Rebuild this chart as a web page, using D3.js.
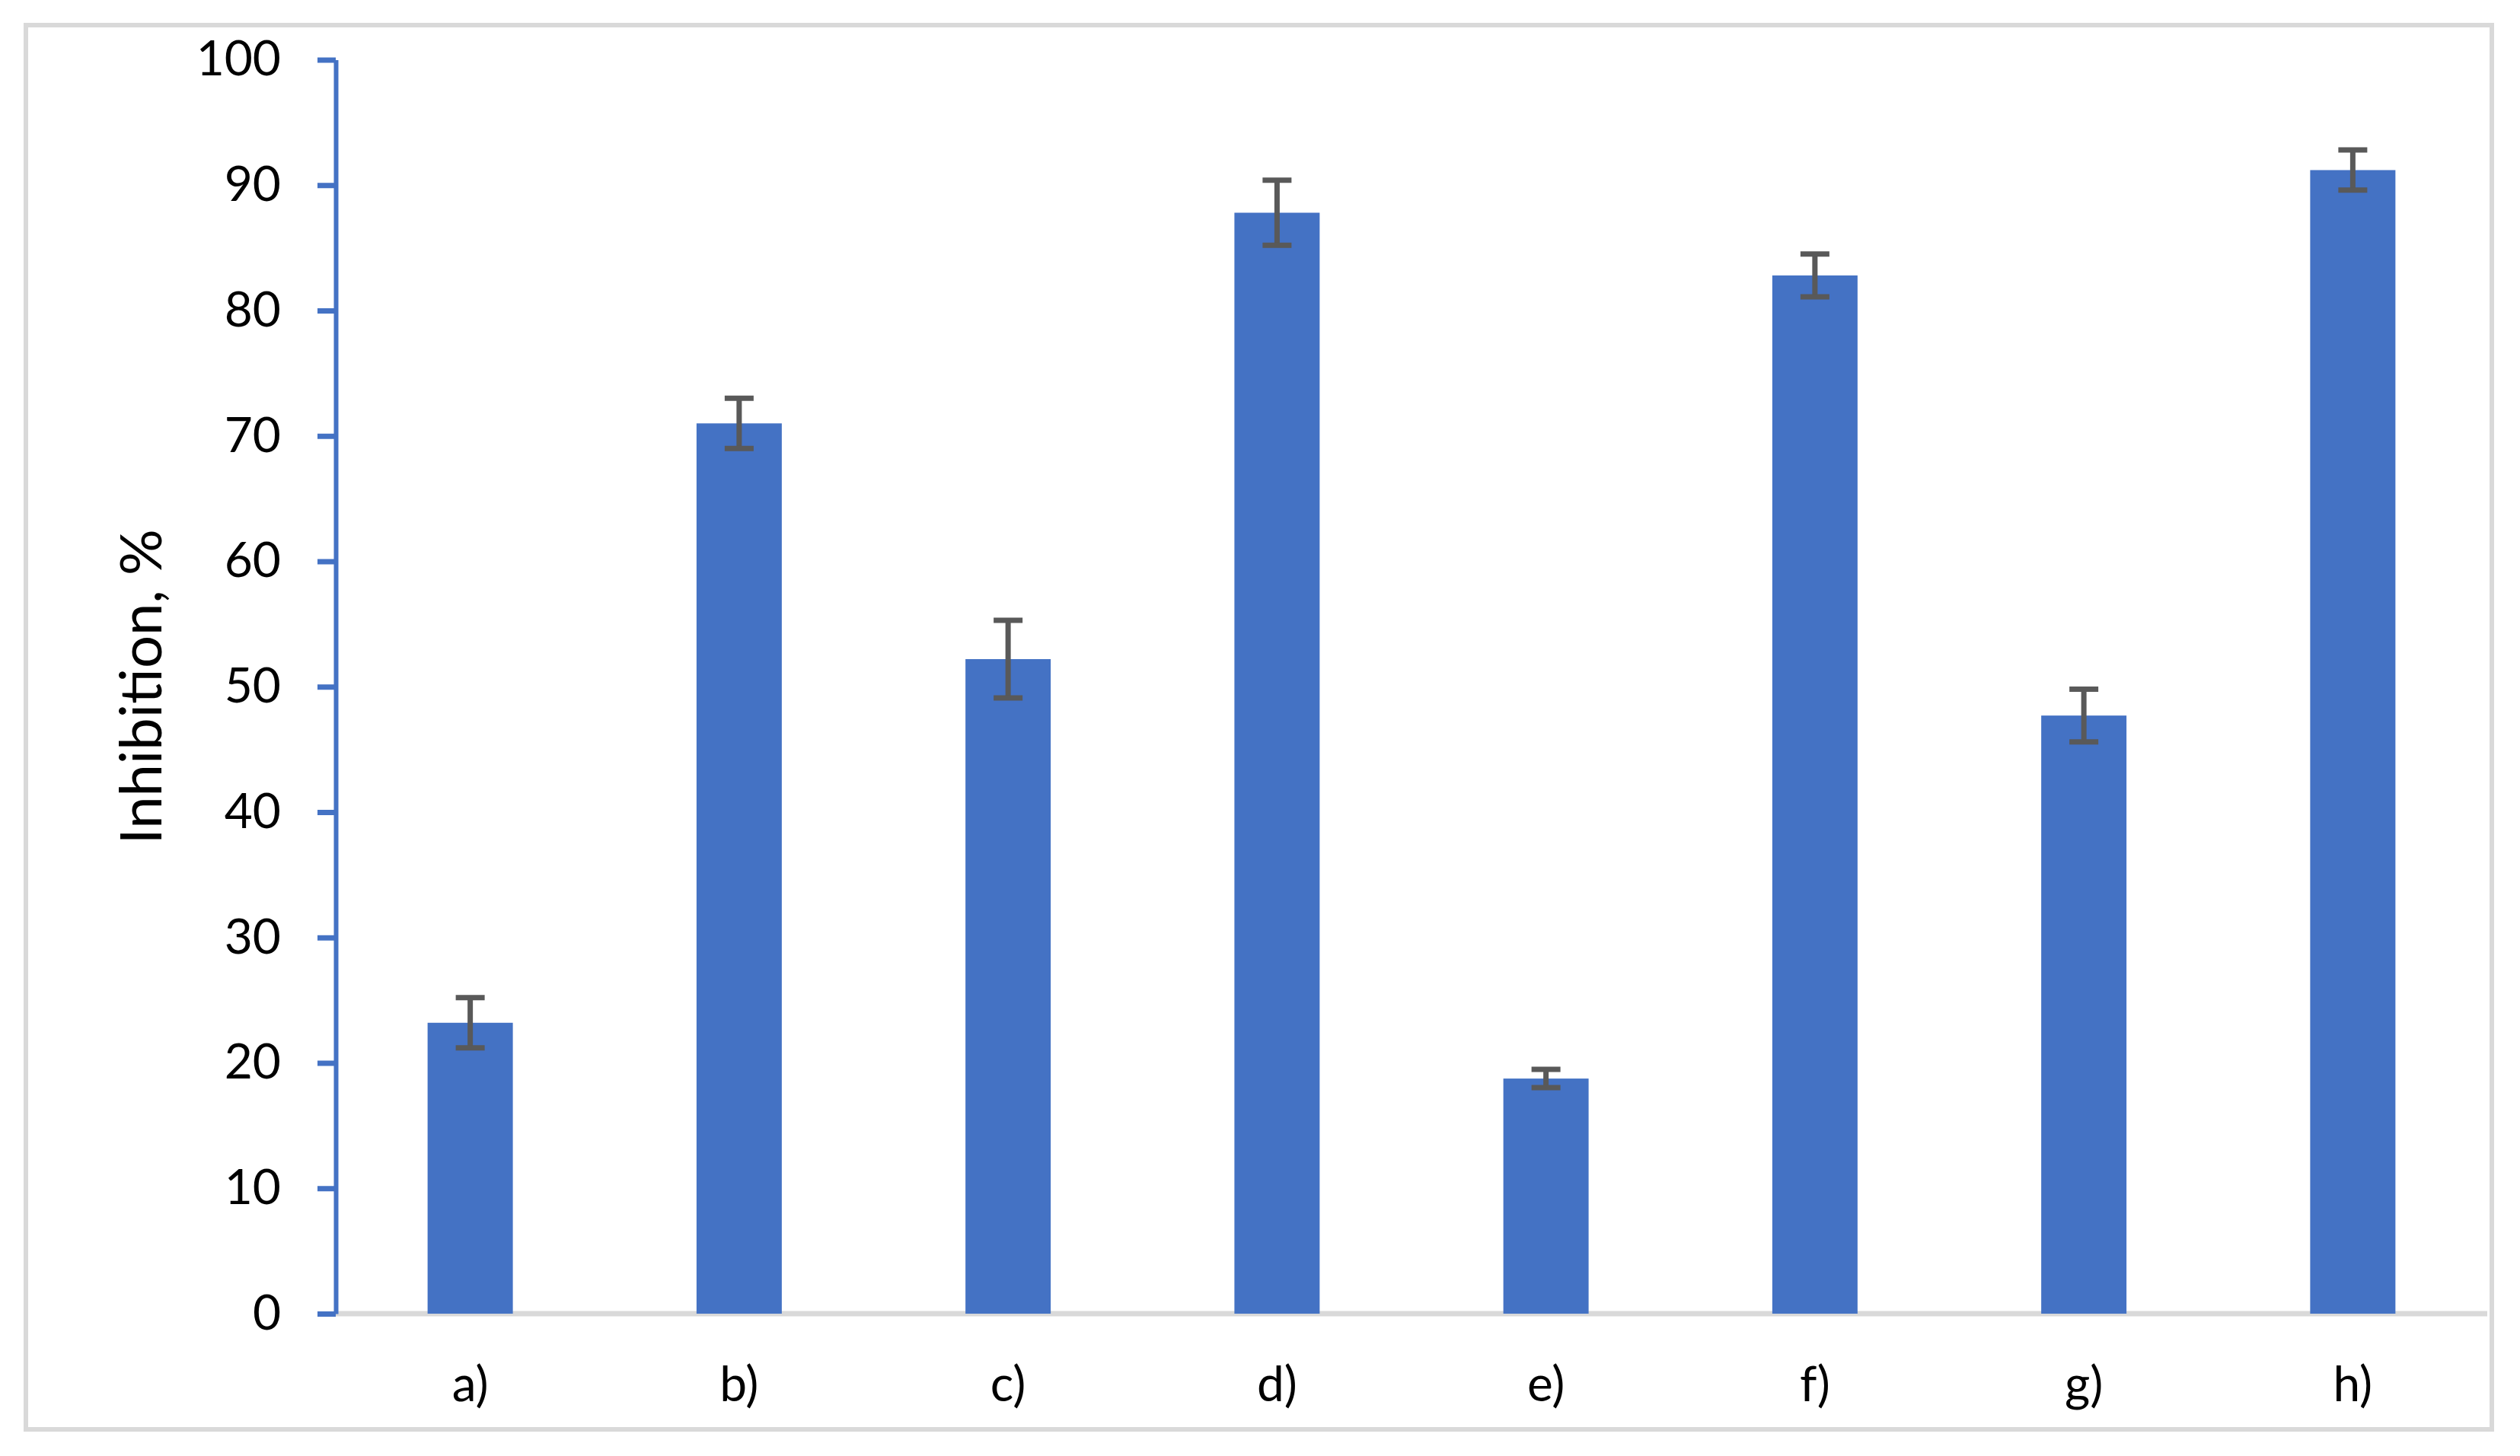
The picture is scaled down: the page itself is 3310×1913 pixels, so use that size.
<!DOCTYPE html>
<html>
<head>
<meta charset="utf-8">
<script src="https://cdn.jsdelivr.net/npm/d3@7"></script>
<style>
  html, body { margin: 0; padding: 0; background: #fff; }
  svg { display: block; }
</style>
</head>
<body>
<script>
// ---- data ----
const categories = ["a)", "b)", "c)", "d)", "e)", "f)", "g)", "h)"];
const values = [23.2, 71.0, 52.2, 87.8, 18.75, 82.8, 47.7, 91.2];
const errors = [2.0, 2.0, 3.1, 2.6, 0.73, 1.7, 2.1, 1.6];
const yTicks = [0, 10, 20, 30, 40, 50, 60, 70, 80, 90, 100];
const yTitle = "Inhibition, %";

// ---- layout ----
const W = 3310, H = 1913;
const plot = { left: 441, right: 3267, top: 78.5, bottom: 1726 };
const FONT = "Lato, 'Open Sans', sans-serif";

const svg = d3.select("body").append("svg").attr("width", W).attr("height", H);

// outer border
svg.append("rect")
  .attr("x", 34).attr("y", 33).attr("width", 3239).attr("height", 1845)
  .attr("fill", "#fff").attr("stroke", "#d9d9d9").attr("stroke-width", 6);

const x = d3.scaleBand().domain(categories)
  .range([plot.left, plot.right])
  .paddingInner(0.683).paddingOuter(0.3415);
const y = d3.scaleLinear().domain([0, 100]).range([plot.bottom, plot.top]);

// x axis (gray baseline, no ticks)
const xAxis = d3.axisBottom(x).tickSize(0).tickPadding(70);
const gx = svg.append("g").attr("transform", `translate(0,${plot.bottom})`).call(xAxis);
gx.select(".domain").attr("stroke", "#d9d9d9").attr("stroke-width", 7)
  .attr("d", `M${plot.left},0H${plot.right}`);
gx.selectAll("text").attr("font-family", FONT).attr("font-size", 64)
  .attr("fill", "#000").attr("dy", "0.71em");

// bars
svg.append("g").selectAll("rect").data(categories).join("rect")
  .attr("x", d => x(d))
  .attr("width", x.bandwidth())
  .attr("y", (d, i) => y(values[i]))
  .attr("height", (d, i) => y(0) - y(values[i]))
  .attr("fill", "#4472c4");

// error bars
const capW = 38;
const eg = svg.append("g").attr("stroke", "#595959").attr("stroke-width", 7);
categories.forEach((c, i) => {
  const cx = x(c) + x.bandwidth() / 2;
  const yt = y(values[i] + errors[i]), yb = y(values[i] - errors[i]);
  eg.append("line").attr("x1", cx).attr("x2", cx).attr("y1", yt).attr("y2", yb);
  eg.append("line").attr("x1", cx - capW / 2).attr("x2", cx + capW / 2).attr("y1", yt).attr("y2", yt);
  eg.append("line").attr("x1", cx - capW / 2).attr("x2", cx + capW / 2).attr("y1", yb).attr("y2", yb);
});

// y axis
const yAxis = d3.axisLeft(y).tickValues(yTicks).tickSize(24).tickPadding(48).tickSizeOuter(0);
const gy = svg.append("g").attr("transform", `translate(${plot.left},0)`).call(yAxis);
gy.select(".domain").attr("stroke", "#4472c4").attr("stroke-width", 6);
gy.selectAll(".tick line").attr("stroke", "#4472c4").attr("stroke-width", 7);
gy.selectAll("text").attr("font-family", FONT).attr("font-size", 64).attr("fill", "#000");

// y title
svg.append("text")
  .attr("transform", `translate(212,${(plot.top + plot.bottom) / 2}) rotate(-90)`)
  .attr("text-anchor", "middle")
  .attr("font-family", FONT).attr("font-size", 76).attr("fill", "#000")
  .text(yTitle);
</script>
</body>
</html>
